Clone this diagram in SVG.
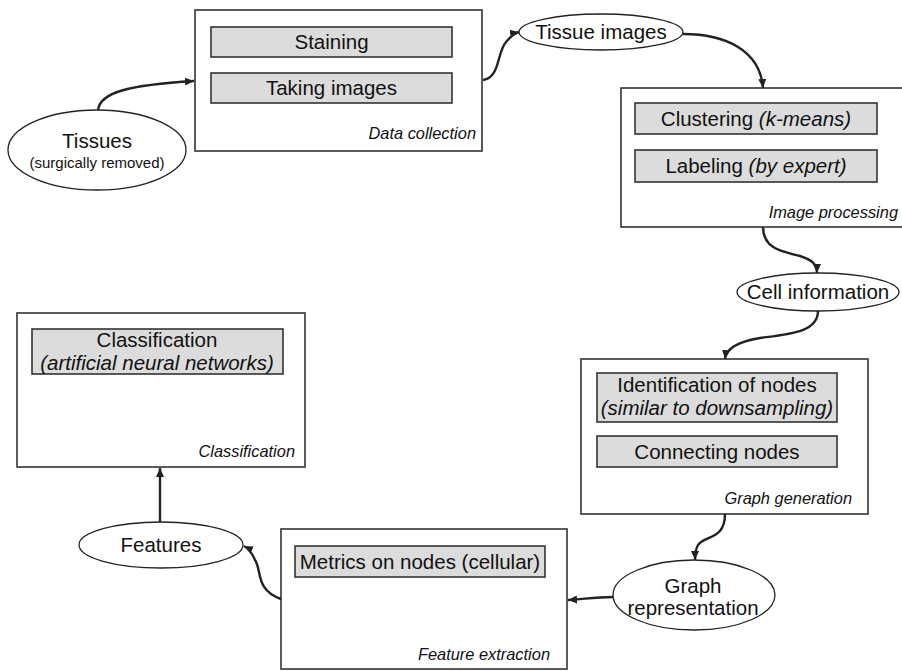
<svg xmlns="http://www.w3.org/2000/svg" width="902" height="671" viewBox="0 0 902 671">
<style>
text{font-family:"Liberation Sans",Arial,sans-serif;fill:#111;}
.t{font-size:20.5px;text-anchor:middle;}
.s{font-size:15px;text-anchor:middle;}
.lab{font-size:16.4px;font-style:italic;text-anchor:end;}
.i{font-style:italic;}
.box{fill:#fff;stroke:#333;stroke-width:1.6;}
.in{fill:#dcdcdc;stroke:#333;stroke-width:1.6;}
.ell{fill:#fff;stroke:#222;stroke-width:1.3;}
.c{fill:none;stroke:#222;stroke-width:2.4;marker-end:url(#ah);}
</style>
<defs>
<marker id="ah" markerWidth="10" markerHeight="10" refX="9" refY="5" orient="auto" markerUnits="userSpaceOnUse">
<path d="M0,1 L9,5 L0,9 Z" fill="#222"/>
</marker>
</defs>
<rect width="902" height="671" fill="#fff"/>

<g id="tissues">
<ellipse class="ell" cx="97" cy="150" rx="89" ry="40"/>
<text class="t" x="97" y="148">Tissues</text>
<text class="s" x="97" y="168">(surgically removed)</text>
</g>

<g id="data-collection">
<rect class="box" x="195" y="10" width="287" height="141"/>
<rect class="in" x="211" y="27" width="241" height="30"/>
<text class="t" x="331.5" y="49">Staining</text>
<rect class="in" x="211" y="73" width="241" height="30"/>
<text class="t" x="331.5" y="95">Taking images</text>
<text class="lab" x="476" y="139">Data collection</text>
</g>

<g id="tissue-images">
<ellipse class="ell" cx="601" cy="32" rx="82" ry="18"/>
<text class="t" x="601" y="39">Tissue images</text>
</g>

<g id="image-processing">
<rect class="box" x="621" y="88" width="300" height="139"/>
<rect class="in" x="635" y="103" width="242" height="31"/>
<text class="t" x="756" y="126">Clustering <tspan class="i">(k-means)</tspan></text>
<rect class="in" x="635" y="150" width="242" height="32"/>
<text class="t" x="756" y="173">Labeling <tspan class="i">(by expert)</tspan></text>
<text class="lab" x="898" y="218">Image processing</text>
</g>

<g id="cell-information">
<ellipse class="ell" cx="818" cy="292" rx="81" ry="19"/>
<text class="t" x="818" y="299">Cell information</text>
</g>

<g id="graph-generation">
<rect class="box" x="581" y="359" width="287" height="155"/>
<rect class="in" x="597" y="373" width="240" height="49"/>
<text class="t" x="717" y="392">Identification of nodes</text>
<text class="t i" x="717" y="415">(similar to downsampling)</text>
<rect class="in" x="597" y="436" width="240" height="31"/>
<text class="t" x="717" y="459">Connecting nodes</text>
<text class="lab" x="852" y="504">Graph generation</text>
</g>

<g id="graph-representation">
<ellipse class="ell" cx="694" cy="595" rx="81" ry="35"/>
<text class="t" x="693" y="593">Graph</text>
<text class="t" x="693" y="615">representation</text>
</g>

<g id="feature-extraction">
<rect class="box" x="281" y="529" width="286" height="140"/>
<rect class="in" x="295" y="546" width="250" height="31"/>
<text class="t" x="420" y="569">Metrics on nodes (cellular)</text>
<text class="lab" x="550" y="660">Feature extraction</text>
</g>

<g id="features">
<ellipse class="ell" cx="161" cy="545" rx="82" ry="23"/>
<text class="t" x="161" y="552">Features</text>
</g>

<g id="classification">
<rect class="box" x="17" y="313" width="288" height="154"/>
<rect class="in" x="32" y="329" width="251" height="45"/>
<text class="t" x="157" y="347">Classification</text>
<text class="t i" x="157" y="370">(artificial neural networks)</text>
<text class="lab" x="295" y="457">Classification</text>
</g>

<g id="connectors">
<path class="c" d="M98,110 C100,92 130,85 194,81"/>
<path class="c" d="M483,80 C500,78 497,52 506,42 C511,36 514,33 519,32"/>
<path class="c" d="M683,34 C725,34 760,50 763,88"/>
<path class="c" d="M763,227 C763,250 785,252 800,256 C812,260 817,264 817,273"/>
<path class="c" d="M818,311 C818,332 790,334 760,338 C735,342 726,350 725,359"/>
<path class="c" d="M725,514 C725,540 705,535 698,545 C695,550 695,554 695,560"/>
<path class="c" d="M613,597 C595,597 585,599 568,600"/>
<path class="c" d="M281,599 C255,590 262,570 255,560 C252,553 248,548 244,546"/>
<path class="c" d="M160,522 L160,468"/>
</g>
</svg>
